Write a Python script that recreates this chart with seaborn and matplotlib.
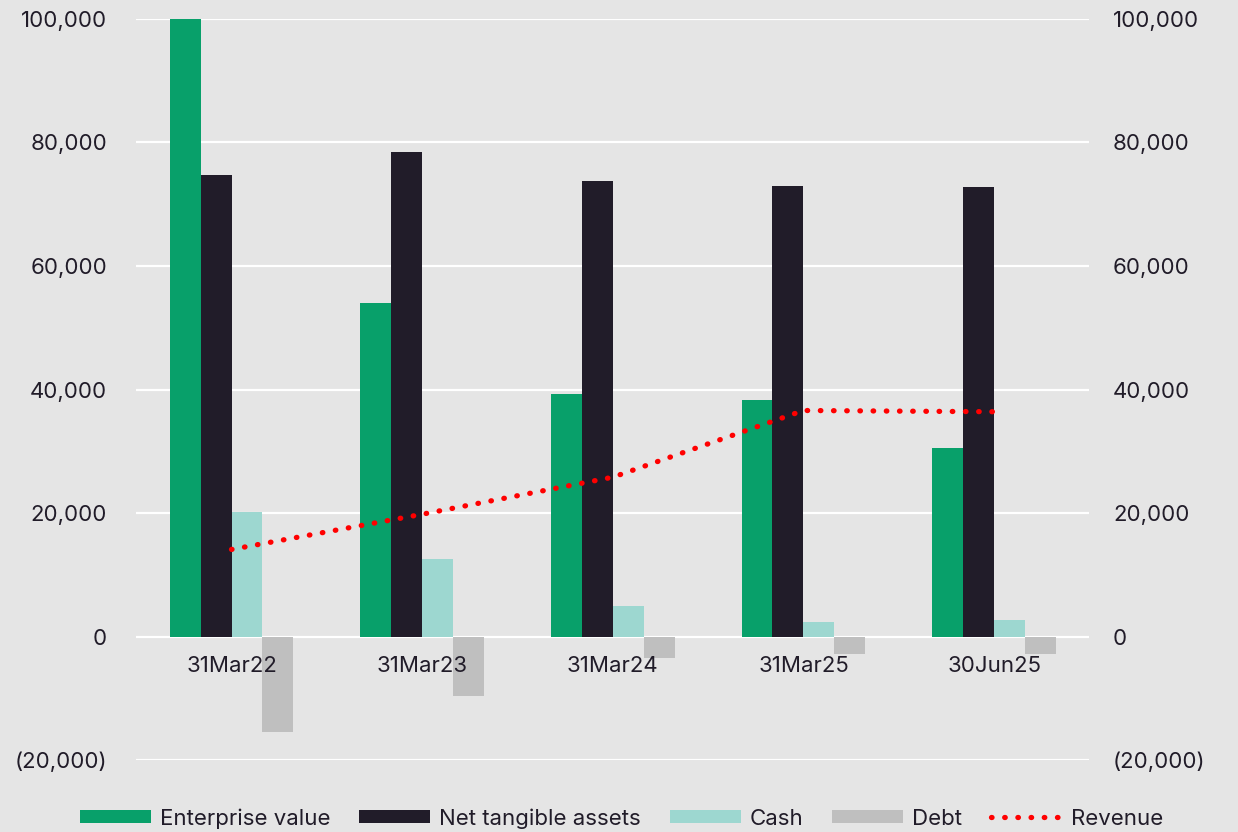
import numpy as np
import pandas as pd
import seaborn as sns
import matplotlib.pyplot as plt
from matplotlib.ticker import FuncFormatter

dates = ["31Mar22", "31Mar23", "31Mar24", "31Mar25", "30Jun25"]
enterprise_value = [100000, 54000, 39200, 38300, 30600]
net_tangible_assets = [74800, 78500, 73800, 73000, 72800]
cash = [20100, 12500, 5000, 2400, 2600]
debt = [-15500, -9700, -3400, -2900, -2900]
revenue = [14100, 19800, 25800, 36600, 36400]

series_names = ["Enterprise value", "Net tangible assets", "Cash", "Debt"]
colors = ["#08a06a", "#211c29", "#9dd7d0", "#bfbfbf"]

rows = []
for name, vals in zip(series_names, [enterprise_value, net_tangible_assets, cash, debt]):
    for d, v in zip(dates, vals):
        rows.append({"date": d, "series": name, "value": v})
df = pd.DataFrame(rows)

sns.set_style("white")
plt.rcParams['font.family'] = ['Inter', 'DejaVu Sans']

bg = "#e5e5e5"
fig = plt.figure(figsize=(12.38, 8.32), dpi=100, facecolor=bg)
ax = fig.add_axes([0.11, 0.0865, 0.77, 0.8907])
ax.set_facecolor(bg)

sns.barplot(data=df, x="date", y="value", hue="series", hue_order=series_names,
            palette=colors, width=0.65, saturation=1, ax=ax, zorder=3,
            edgecolor="none")
sns.lineplot(x=np.arange(len(dates)), y=revenue, ax=ax, color="#ff0000",
             linewidth=3.8, linestyle=(0, (0.1, 2.4)), dash_capstyle="round",
             label="Revenue", zorder=4)

ax.set_xlim(-0.5, 4.5)
ax.set_ylim(-20000, 100000)
ticks = np.arange(-20000, 100001, 20000)
ax.set_yticks(ticks)

def fmt(v, pos):
    return f"({abs(int(v)):,})" if v < 0 else f"{int(v):,}"

ax.yaxis.set_major_formatter(FuncFormatter(fmt))
ax.grid(axis="y", color="white", linewidth=1.6, zorder=0)
ax.set_axisbelow(True)
for s in ax.spines.values():
    s.set_visible(False)
ax.spines['bottom'].set_position(('data', 0))
ax.tick_params(axis="x", length=0, pad=14, labelsize=16, labelcolor="#211c29")
ax.tick_params(axis="y", length=0, pad=21, labelsize=16, labelcolor="#211c29")
ax.xaxis.set_zorder(6)
ax.set_xlabel("")
ax.set_ylabel("")

ax2 = ax.twinx()
ax2.set_ylim(-20000, 100000)
ax2.set_yticks(ticks)
ax2.yaxis.set_major_formatter(FuncFormatter(fmt))
ax2.tick_params(axis="y", length=0, pad=17, labelsize=16, labelcolor="#211c29")
for s in ax2.spines.values():
    s.set_visible(False)

handles, labels = ax.get_legend_handles_labels()
ax.get_legend().remove()
fig.legend(handles, labels, loc="lower center", bbox_to_anchor=(0.502, -0.02),
           ncol=5, frameon=False, fontsize=16, handlelength=3.2, handleheight=0.55,
           handletextpad=0.4, columnspacing=1.3, labelcolor="#211c29")

fig.savefig("out.png", dpi=100, facecolor=bg)
